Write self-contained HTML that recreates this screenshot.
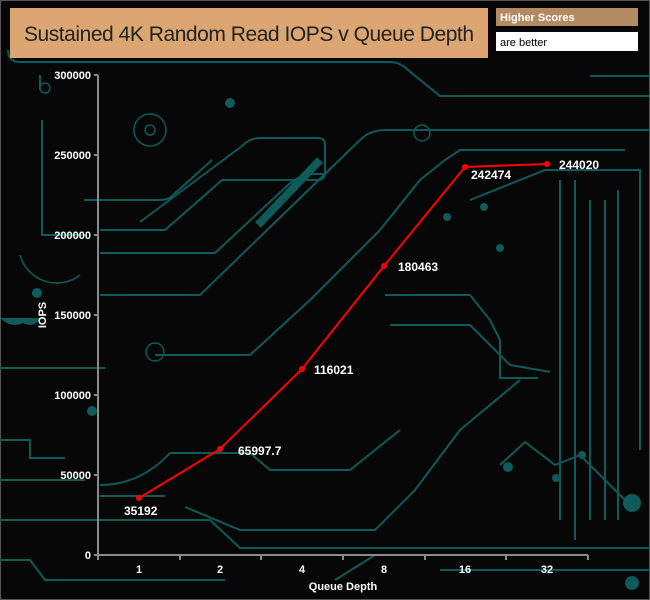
<!DOCTYPE html>
<html><head><style>
html,body{margin:0;padding:0;background:#0a0a0a;}
svg{display:block;}
text{font-family:"Liberation Sans",sans-serif;}
</style></head><body>
<svg width="650" height="600" viewBox="0 0 650 600" xmlns="http://www.w3.org/2000/svg">
<rect x="0" y="0" width="650" height="600" fill="#070707"/>
<rect x="0.5" y="0.5" width="649" height="599" fill="none" stroke="#555" stroke-width="1"/>
<g fill="none" stroke="#0f5a5a" stroke-width="2">
<path d="M8 50 Q8 62 20 62 L390 62 Q400 62 408 70 L440 96 L650 96"/>
<path d="M650 76 L590 76"/>
<path d="M40 75 L40 90"/>
<path d="M42 120 L42 235 L85 235"/>
<path d="M100 230 L165 230 L205 195 L222 180 L318 180 Q325 180 325 172 L325 145 Q325 138 318 138 L260 138 Q250 138 242 146 L140 222"/>
<path d="M84 200 L160 200 Q168 200 172 196 L212 160"/>
<path d="M100 253 L215 253 L288 185 Q300 174 315 174 L325 174"/>
<path d="M100 295 L200 295 L360 140 Q370 130 385 130 L650 130"/>
<path d="M0 368 L100 368 L105 368"/>
<path d="M155 355 L250 355 L310 300 L380 230 L420 180 L445 160 L460 150 L470 150 L625 150"/>
<path d="M390 325 L470 325 L495 350 L510 365 L550 372"/>
<path d="M100 485 Q140 485 170 453 L250 453 L270 470 L350 470 L400 430"/>
<path d="M100 496 L165 496"/>
<path d="M0 520 L210 520 L240 548 L650 548"/>
<path d="M0 560 L30 560 L45 580 L225 580"/>
<path d="M0 480 L85 480"/>
<path d="M185 507 L240 530 L375 530 L415 490 L460 430 L520 380"/>
<path d="M335 580 L375 555 L420 555"/>
<path d="M440 570 L650 570"/>
<path d="M470 200 L545 170 L640 170 L640 450"/>
<path d="M560 180 L560 520 M575 180 L575 540 M590 200 L590 520 M605 200 L605 520 M618 190 L618 520"/>
<path d="M500 465 L525 442 L555 465 L580 455 L625 500"/>
<path d="M385 295 L470 295 L490 320 L500 340 L500 378 L538 378"/>
<path d="M0 440 L30 440 L30 458 L65 458"/>
</g>
<g fill="#0f5a5a">
<circle cx="92" cy="411" r="5"/>
<circle cx="37" cy="293" r="5"/>
<circle cx="632" cy="503" r="9"/>
<circle cx="632" cy="583" r="7"/>
<circle cx="508" cy="467" r="5"/>
<circle cx="582" cy="455" r="4"/>
<circle cx="556" cy="478" r="4"/>
<circle cx="484" cy="207" r="4"/>
<circle cx="447" cy="217" r="4"/>
<circle cx="500" cy="248" r="4"/>
<circle cx="230" cy="103" r="5"/>
<path d="M258 225 L320 160" stroke="#0f5a5a" stroke-width="8"/>
<path d="M0 318 Q15 332 30 318 Z M18 318 Q30 332 42 318Z"/>
</g>
<g fill="none" stroke="#0f5a5a" stroke-width="1.5">
<circle cx="150" cy="130" r="16"/><circle cx="150" cy="130" r="5"/>
<circle cx="155" cy="352" r="9"/>
<circle cx="45" cy="88" r="5"/>
<path d="M20 255 A38 38 0 0 0 80 275"/>
<circle cx="422" cy="133" r="8"/>
</g>
<!-- axes -->
<g stroke="#8a8a8a" stroke-width="2" fill="none">
<path d="M98 75 L98 556 M94 75 L98 75 M94 155 L98 155 M94 235 L98 235 M94 315 L98 315 M94 395 L98 395 M94 475 L98 475 M94 555 L98 555"/>
<path d="M98 555 L588 555 M98 555 L98 560 M180 555 L180 560 M261 555 L261 560 M343 555 L343 560 M425 555 L425 560 M506 555 L506 560 M588 555 L588 560"/>
</g>
<g fill="#fff" font-size="11" font-weight="bold" text-anchor="end">
<text x="91" y="79">300000</text><text x="91" y="159">250000</text><text x="91" y="239">200000</text><text x="91" y="319">150000</text><text x="91" y="399">100000</text><text x="91" y="479">50000</text><text x="91" y="559">0</text>
</g>
<g fill="#fff" font-size="11" font-weight="bold" text-anchor="middle">
<text x="139" y="573">1</text><text x="220" y="573">2</text><text x="302" y="573">4</text><text x="384" y="573">8</text><text x="465" y="573">16</text><text x="547" y="573">32</text>
<text x="343" y="590">Queue Depth</text>
<text transform="translate(46,315) rotate(-90)">IOPS</text>
</g>
<polyline points="139,498 220,449 302,369 384,266 465,167 547,164" fill="none" stroke="#ff0000" stroke-width="2"/>
<g fill="#ff0000"><circle cx="139" cy="498" r="3"/><circle cx="220" cy="449" r="3"/><circle cx="302" cy="369" r="3"/><circle cx="384" cy="266" r="3"/><circle cx="465" cy="167" r="3"/><circle cx="547" cy="164" r="3"/></g>
<g fill="#fff" font-size="12" font-weight="bold">
<text x="124" y="515">35192</text>
<text x="238" y="455">65997.7</text>
<text x="314" y="374">116021</text>
<text x="398" y="271">180463</text>
<text x="471" y="179">242474</text>
<text x="559" y="169">244020</text>
</g>
<rect x="10" y="8" width="478" height="50" fill="#dba671"/>
<text x="249" y="41" fill="#222" font-size="21" text-anchor="middle" textLength="450">Sustained 4K Random Read IOPS v Queue Depth</text>
<rect x="496" y="8" width="142" height="18" fill="#b38a61"/>
<text x="500" y="21" fill="#fff" font-size="11" font-weight="bold">Higher Scores</text>
<rect x="496" y="32" width="142" height="19" fill="#fff"/>
<text x="500" y="46" fill="#000" font-size="11">are better</text>
</svg>
</body></html>
